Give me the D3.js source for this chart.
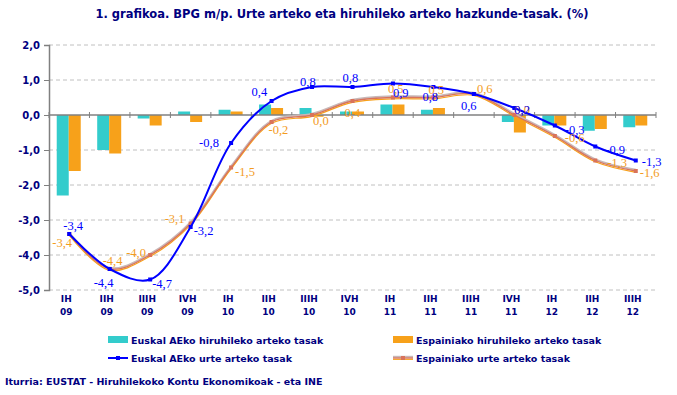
<!DOCTYPE html>
<meta charset="utf-8">
<style>
body {
    margin: 0;
    background: #fff;
}
svg text {
    font-family: "DejaVu Sans", Verdana, sans-serif;
    fill: #000080;
}
.axis-label {
    font-size: 9.5px;
    font-weight: bold;
}
.grid {
    stroke: #c0c0c0;
    stroke-dasharray: 4,3;
}
.val {
    font-family: "Liberation Serif", "Times New Roman", serif;
    font-size: 12.5px;
}
</style>
<body>
<script src="https://cdn.jsdelivr.net/npm/d3@7/dist/d3.min.js"></script>
<script>
var width = 677,
    height = 395;

var quarters = ["IH", "IIH", "IIIH", "IVH", "IH", "IIH", "IIIH", "IVH", "IH", "IIH", "IIIH", "IVH", "IH", "IIH", "IIIH"];
var years = ["09", "09", "09", "09", "10", "10", "10", "10", "11", "11", "11", "11", "12", "12", "12"];

// hiruhileko arteko tasak (barrak)
var euskalQuarter = [-2.3, -1.0, -0.1, 0.1, 0.15, 0.3, 0.2, 0.1, 0.3, 0.15, 0.0, -0.2, -0.3, -0.45, -0.35];
var spainQuarter = [-1.6, -1.1, -0.3, -0.2, 0.1, 0.2, -0.05, 0.1, 0.3, 0.2, 0.0, -0.5, -0.3, -0.4, -0.3];

// urte arteko tasak (lerroak)
var euskalAnnual = [-3.4, -4.4, -4.7, -3.2, -0.8, 0.4, 0.8, 0.8, 0.9, 0.8, 0.6, 0.2, -0.3, -0.9, -1.3];
var spainAnnual = [-3.4, -4.4, -4.0, -3.1, -1.5, -0.2, 0.0, 0.4, 0.5, 0.5, 0.6, 0.0, -0.6, -1.3, -1.6];

var yTicks = [2, 1, 0, -1, -2, -3, -4, -5];

// etiketen kokapena puntuarekiko [dx, dy]
var euskalLabelPos = [[-6, -4], [-16, 18], [2, 8], [3, 8], [-32, 4], [-20, -5], [-12, -1], [-10, -5],
    [0, 13], [-11, 14], [-13, 16], [0, 6], [10, 8], [10, 7], [6, 5]];
var spainLabelPos = [[-17, 13], [-7, -4], [-24, 2], [-26, -1], [4, 8], [-3, 12], [1, 10], [-8, 16],
    [-5, -5], [-5, -4], [3, -1], [0, -1], [10, 6], [12, 6], [4, 6]];

var fmt = function(v) { return d3.format(".1f")(v).replace("\u2212", "-").replace(".", ","); };

var svg = d3.select("body").append("svg")
    .attr("width", width)
    .attr("height", height);

var idx = d3.range(quarters.length);

var x = d3.scaleBand()
    .domain(idx)
    .range([49, 656])
    .paddingInner(0)
    .paddingOuter(0);

var y = d3.scaleLinear()
    .domain([-5, 2])
    .range([290, 45]);

var cx = function(i) { return x(i) + x.bandwidth() / 2; };

svg.append("text")
    .attr("x", 342)
    .attr("y", 18)
    .attr("text-anchor", "middle")
    .style("font-size", "11.5px")
    .style("font-weight", "bold")
    .text("1. grafikoa. BPG m/p. Urte arteko eta hiruhileko arteko hazkunde-tasak. (%)");

// grid
svg.append("g")
    .selectAll("line")
    .data(yTicks.filter(function(d) { return d !== 0; }))
    .enter()
    .append("line")
    .attr("class", "grid")
    .attr("x1", 49)
    .attr("x2", 656)
    .attr("y1", function(d) { return y(d); })
    .attr("y2", function(d) { return y(d); });

// y axis
var yAxis = d3.axisLeft(y)
    .tickValues(yTicks)
    .tickSize(5)
    .tickFormat(fmt);

var yg = svg.append("g")
    .attr("transform", "translate(49,0)")
    .call(yAxis);
yg.select(".domain").attr("stroke", "#808080").attr("stroke-width", 1.5);
yg.selectAll(".tick line").attr("stroke", "#808080");
yg.selectAll(".tick text")
    .attr("class", "axis-label")
    .attr("x", -9)
    .attr("dy", "0.35em")
    .style("font-size", "10px");

// bars
svg.append("g")
    .selectAll("rect")
    .data(idx)
    .enter()
    .append("rect")
    .attr("x", function(i) { return cx(i) - 12.5; })
    .attr("width", 12)
    .attr("y", function(i) { return y(Math.max(0, euskalQuarter[i])); })
    .attr("height", function(i) { return Math.abs(y(euskalQuarter[i]) - y(0)); })
    .attr("fill", "#33cccc");

svg.append("g")
    .selectAll("rect")
    .data(idx)
    .enter()
    .append("rect")
    .attr("x", function(i) { return cx(i) - 0.5; })
    .attr("width", 12)
    .attr("y", function(i) { return y(Math.max(0, spainQuarter[i])); })
    .attr("height", function(i) { return Math.abs(y(spainQuarter[i]) - y(0)); })
    .attr("fill", "#f7a11a");

// zero axis with category ticks
svg.append("line")
    .attr("x1", 49).attr("x2", 656)
    .attr("y1", y(0)).attr("y2", y(0))
    .attr("stroke", "#808080")
    .attr("stroke-width", 1.5);

svg.append("g")
    .selectAll("line")
    .data(d3.range(quarters.length + 1))
    .enter()
    .append("line")
    .attr("x1", function(i) { return 49 + i * x.step(); })
    .attr("x2", function(i) { return 49 + i * x.step(); })
    .attr("y1", y(0) - 3)
    .attr("y2", y(0) + 3)
    .attr("stroke", "#808080");

// x labels
var xl = svg.append("g")
    .selectAll("text")
    .data(idx)
    .enter()
    .append("text")
    .attr("class", "axis-label")
    .attr("text-anchor", "middle")
    .style("font-size", "9px")
    .attr("x", function(i) { return cx(i) - 3; })
    .attr("y", 302);
xl.append("tspan").text(function(i) { return quarters[i]; });
xl.append("tspan")
    .attr("x", function(i) { return cx(i) - 3; })
    .attr("dy", 13)
    .text(function(i) { return years[i]; });

// lines
var line = d3.line()
    .x(function(d, i) { return cx(i); })
    .y(function(d) { return y(d); })
    .curve(d3.curveCatmullRom.alpha(0.5));

svg.append("path")
    .datum(spainAnnual)
    .attr("d", line)
    .attr("transform", "translate(0,-1.2)")
    .attr("fill", "none")
    .attr("stroke", "#c8b8b8")
    .attr("stroke-width", 2);
svg.append("path")
    .datum(spainAnnual)
    .attr("d", line)
    .attr("transform", "translate(0,1.3)")
    .attr("fill", "none")
    .attr("stroke", "#f7a11a")
    .attr("stroke-width", 1.2);
svg.append("path")
    .datum(spainAnnual)
    .attr("d", line)
    .attr("fill", "none")
    .attr("stroke", "#d9735a")
    .attr("stroke-width", 1.3);

svg.append("g")
    .selectAll("rect")
    .data(idx)
    .enter()
    .append("rect")
    .attr("x", function(i) { return cx(i) - 2; })
    .attr("y", function(i) { return y(spainAnnual[i]) - 2; })
    .attr("width", 4)
    .attr("height", 4)
    .attr("fill", "#d9735a");

svg.append("path")
    .datum(euskalAnnual)
    .attr("d", line)
    .attr("fill", "none")
    .attr("stroke", "#0000ff")
    .attr("stroke-width", 2);

svg.append("g")
    .selectAll("rect")
    .data(idx)
    .enter()
    .append("rect")
    .attr("x", function(i) { return cx(i) - 2; })
    .attr("y", function(i) { return y(euskalAnnual[i]) - 2; })
    .attr("width", 4)
    .attr("height", 4)
    .attr("fill", "#0000ff");

// value labels
svg.append("g")
    .selectAll("text")
    .data(idx)
    .enter()
    .append("text")
    .attr("class", "val")
    .attr("x", function(i) { return cx(i) + spainLabelPos[i][0]; })
    .attr("y", function(i) { return y(spainAnnual[i]) + spainLabelPos[i][1]; })
    .style("fill", "#f39c1e")
    .text(function(i) { return fmt(spainAnnual[i]); });

svg.append("g")
    .selectAll("text")
    .data(idx)
    .enter()
    .append("text")
    .attr("class", "val")
    .attr("x", function(i) { return cx(i) + euskalLabelPos[i][0]; })
    .attr("y", function(i) { return y(euskalAnnual[i]) + euskalLabelPos[i][1]; })
    .style("fill", "#0000ff")
    .text(function(i) { return fmt(euskalAnnual[i]); });

// legend
var legend = svg.append("g").attr("class", "axis-label");

legend.append("rect").attr("x", 108).attr("y", 336).attr("width", 20).attr("height", 7).attr("fill", "#33cccc");
legend.append("text").attr("x", 131).attr("y", 344).text("Euskal AEko hiruhileko arteko tasak");

legend.append("rect").attr("x", 393).attr("y", 336).attr("width", 20).attr("height", 7).attr("fill", "#f7a11a");
legend.append("text").attr("x", 416).attr("y", 344).text("Espainiako hiruhileko arteko tasak");

legend.append("line").attr("x1", 108).attr("x2", 128).attr("y1", 358).attr("y2", 358)
    .attr("stroke", "#0000ff").attr("stroke-width", 2);
legend.append("rect").attr("x", 116).attr("y", 356).attr("width", 4).attr("height", 4).attr("fill", "#0000ff");
legend.append("text").attr("x", 131).attr("y", 362).text("Euskal AEko urte arteko tasak");

legend.append("line").attr("x1", 393).attr("x2", 413).attr("y1", 356.8).attr("y2", 356.8)
    .attr("stroke", "#c8b8b8").attr("stroke-width", 2);
legend.append("line").attr("x1", 393).attr("x2", 413).attr("y1", 359.3).attr("y2", 359.3)
    .attr("stroke", "#f7a11a").attr("stroke-width", 1.2);
legend.append("line").attr("x1", 393).attr("x2", 413).attr("y1", 358).attr("y2", 358)
    .attr("stroke", "#d9735a").attr("stroke-width", 1.3);
legend.append("rect").attr("x", 401).attr("y", 356).attr("width", 4).attr("height", 4).attr("fill", "#d9735a");
legend.append("text").attr("x", 416).attr("y", 362).text("Espainiako urte arteko tasak");

svg.append("text")
    .attr("class", "axis-label")
    .attr("x", 5)
    .attr("y", 385)
    .text("Iturria: EUSTAT - Hiruhilekoko Kontu Ekonomikoak - eta INE");
</script>
</body>
